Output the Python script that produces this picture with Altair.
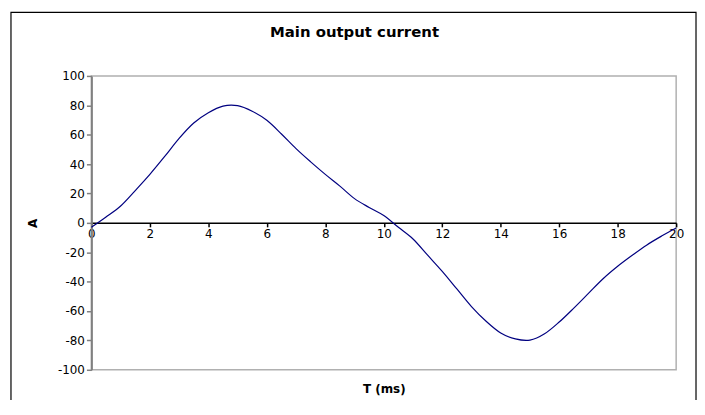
import altair as alt
import pandas as pd

# ---- data ----
t_ms = [0, 0.5, 1.0, 1.5, 2.0, 2.5, 3.0, 3.5, 4.0, 4.5, 5.0, 5.5, 6.0, 6.5, 7.0,
        7.5, 8.0, 8.5, 9.0, 9.5, 10.0, 10.5, 11.0, 11.5, 12.0, 12.5, 13.0, 13.5,
        14.0, 14.5, 15.0, 15.5, 16.0, 16.5, 17.0, 17.5, 18.0, 18.5, 19.0, 19.5, 20.0]
current_a = [-3, 4, 11.5, 22, 33, 45, 57.5, 68, 75, 79.5, 79.8, 76, 69.8, 60.5, 50.5,
             41.5, 33, 25, 16.5, 10.5, 5, -3, -11, -22, -33, -45, -57, -67,
             -75, -79, -79.8, -75.5, -67.5, -58, -48, -38, -29.5, -22, -15, -9, -3.5]
x_ticks = [0, 2, 4, 6, 8, 10, 12, 14, 16, 18, 20]
y_ticks = [-100, -80, -60, -40, -20, 0, 20, 40, 60, 80, 100]
title_text = ["Main output current"]
x_title = "T (ms)"
y_title = "A"

W, H = 589, 296
FONT = "DejaVu Sans"

df = pd.DataFrame({"t": t_ms, "a": current_a})

line = alt.Chart(df).mark_line(
    color="#000080", strokeWidth=1.2, interpolate="cardinal"
).encode(
    x=alt.X(
        "t:Q",
        scale=alt.Scale(domain=[0, 20], nice=False, zero=False),
        axis=alt.Axis(
            values=x_ticks, title=x_title, orient="bottom", offset=-148, grid=False,
            domainColor="black", domainWidth=1.5, tickColor="black", tickSize=4,
            tickWidth=1.5, labelFont=FONT, labelFontSize=12, labelColor="black",
            labelPadding=2, labelFlush=False, labelOverlap=False,
            labelExpr="toString(datum.value)",
            titleFont=FONT, titleFontSize=12, titleFontWeight="bold", titleColor="black",
            titleX=W / 2, titleY=167, titleBaseline="middle", titleAlign="center",
        ),
    ),
    y=alt.Y(
        "a:Q",
        scale=alt.Scale(domain=[-100, 100], nice=False),
        axis=alt.Axis(
            values=y_ticks, title=y_title, grid=False,
            domainColor="#808080", domainWidth=2, tickColor="#808080", tickWidth=1.5,
            tickSize=5, labelPadding=2, labelFont=FONT, labelFontSize=12,
            labelColor="black", labelOverlap=False,
            labelExpr="toString(datum.value)",
            titleFont=FONT, titleFontSize=12, titleFontWeight="bold", titleColor="black",
            titleX=-59, titleY=H / 2, titleAngle=270, titleBaseline="middle",
            titleAlign="center",
        ),
    ),
)

frame = alt.Chart(pd.DataFrame({"k": [0]})).mark_rect(
    fillOpacity=0, stroke="black", strokeWidth=1.2
).encode(
    x=alt.value(-81), x2=alt.value(609), y=alt.value(-64), y2=alt.value(345)
)

title = alt.Chart(pd.DataFrame({"label": title_text})).mark_text(
    font=FONT, fontSize=15, fontWeight="bold", align="center", baseline="middle",
    color="black"
).encode(
    text="label:N", x=alt.value(265), y=alt.value(-44)
)

chart = alt.layer(frame, line, title).properties(
    width=W, height=H,
    autosize=alt.AutoSizeParams(type="none"),
    padding={"left": 84, "top": 67, "right": 21, "bottom": 29},
).configure_view(stroke="#b0b0b0", strokeWidth=1.5)

chart.save("out.html", embed_options={"renderer": "svg", "actions": False})
